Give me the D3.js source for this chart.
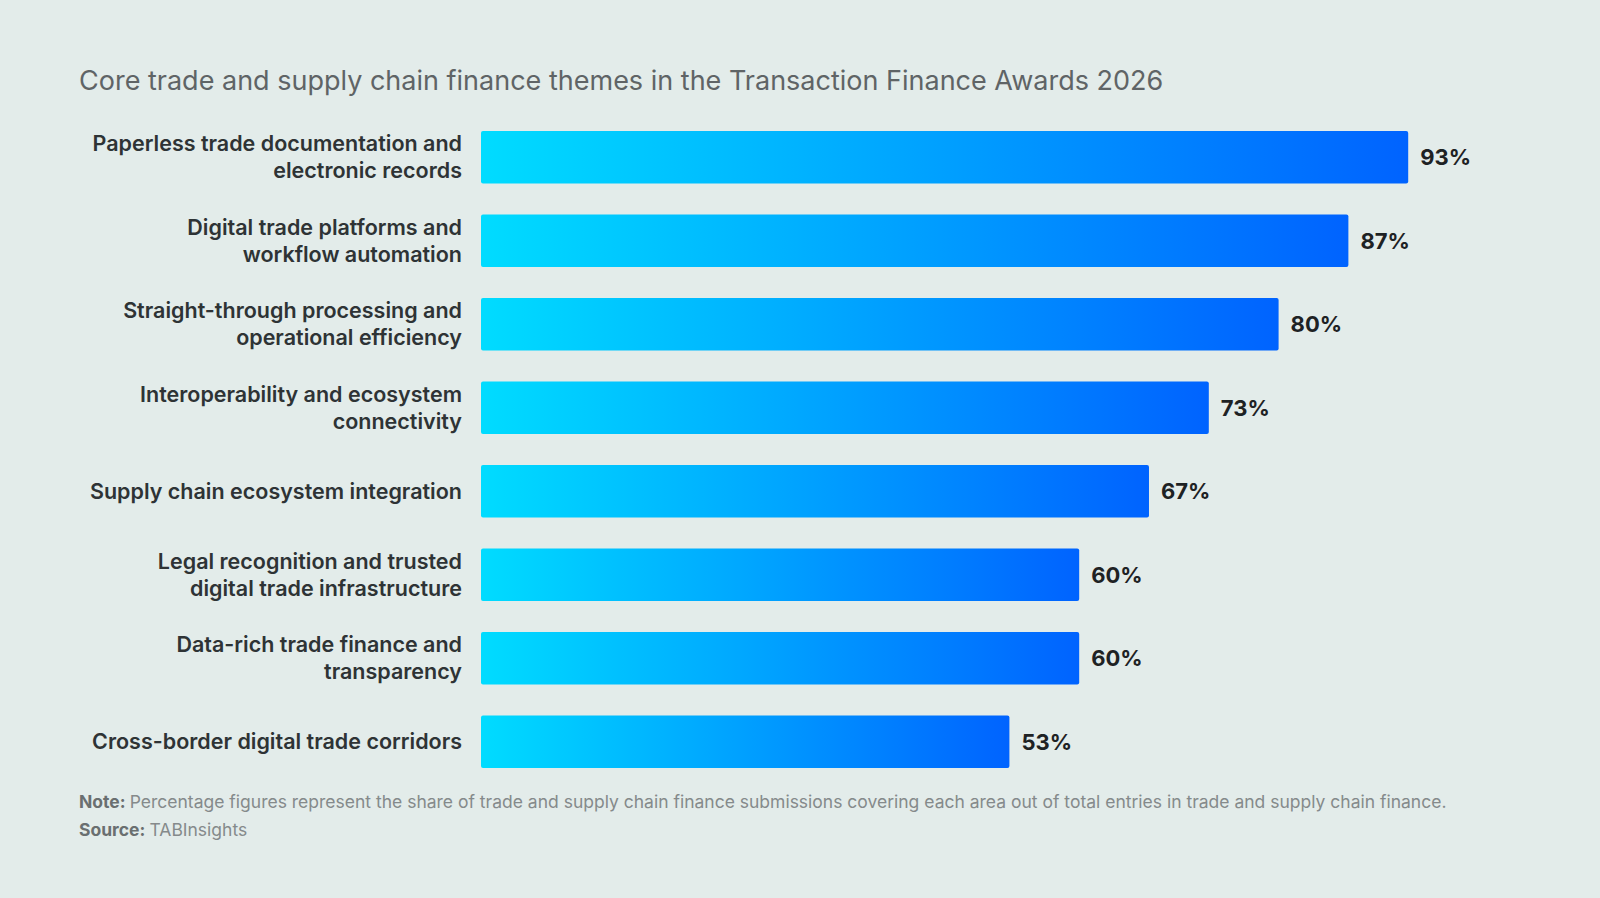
<!DOCTYPE html>
<html>
<head>
<meta charset="utf-8">
<script src="https://d3js.org/d3.v7.min.js"></script>
<style>
  body { margin: 0; background: #e3ecea; }
  text { font-family: Inter, "Noto Sans", sans-serif; }
</style>
</head>
<body>
<div id="chart"></div>
<script>
"use strict";

var labels = [
  ["Paperless trade documentation and", "electronic records"],
  ["Digital trade platforms and", "workflow automation"],
  ["Straight-through processing and", "operational efficiency"],
  ["Interoperability and ecosystem", "connectivity"],
  ["Supply chain ecosystem integration"],
  ["Legal recognition and trusted", "digital trade infrastructure"],
  ["Data-rich trade finance and", "transparency"],
  ["Cross-border digital trade corridors"]
];
var values = [93, 87, 80, 73, 67, 60, 60, 53];

var W = 1600, H = 898;
var svg = d3.select("#chart").append("svg").attr("width", W).attr("height", H);
svg.append("rect").attr("width", W).attr("height", H).attr("fill", "#e3ecea");

var grad = svg.append("defs").append("linearGradient").attr("id", "g");
grad.append("stop").attr("offset", "0%").attr("stop-color", "#00dcff");
grad.append("stop").attr("offset", "100%").attr("stop-color", "#0063ff");

svg.append("text").attr("x", 79).attr("y", 90)
  .attr("font-size", 27).attr("fill", "#5f6466")
  .text("Core trade and supply chain finance themes in the Transaction Finance Awards 2026");

var x = d3.scaleLinear().domain([0, 100]).range([481, 1478]);
var y = d3.scaleBand().domain(d3.range(values.length)).range([131, 768]).paddingInner(0.37).paddingOuter(0);

svg.selectAll(".bar").data(values).enter().append("rect")
  .attr("x", x(0)).attr("y", (d, i) => y(i))
  .attr("width", d => x(d) - x(0)).attr("height", y.bandwidth())
  .attr("rx", 2).attr("fill", "url(#g)");

svg.selectAll(".val").data(values).enter().append("text")
  .attr("x", d => x(d) + 12).attr("y", (d, i) => y(i) + y.bandwidth() / 2 + 8)
  .attr("font-size", 22).attr("font-weight", 700).attr("fill", "#1e2224")
  .text(d => d + "%");

labels.forEach(function(l, i) {
  var cy = y(i) + y.bandwidth() / 2;
  var t = svg.append("text").attr("x", 462).attr("text-anchor", "end")
    .attr("font-size", 21.5).attr("font-weight", 600).attr("fill", "#2e3335");
  l.forEach(function(s, j) {
    t.append("tspan").attr("x", 462)
      .attr("y", cy + 7.5 + (j - (l.length - 1) / 2) * 27)
      .text(s);
  });
});

var note = svg.append("text").attr("x", 79).attr("y", 808).attr("font-size", 17.5).attr("fill", "#858a8b");
note.append("tspan").attr("font-weight", 700).attr("fill", "#6a6f70").text("Note: ");
note.append("tspan").text("Percentage figures represent the share of trade and supply chain finance submissions covering each area out of total entries in trade and supply chain finance.");
var src = svg.append("text").attr("x", 79).attr("y", 836).attr("font-size", 17.5).attr("fill", "#858a8b");
src.append("tspan").attr("font-weight", 700).attr("fill", "#6a6f70").text("Source: ");
src.append("tspan").text("TABInsights");
</script>
</body>
</html>
